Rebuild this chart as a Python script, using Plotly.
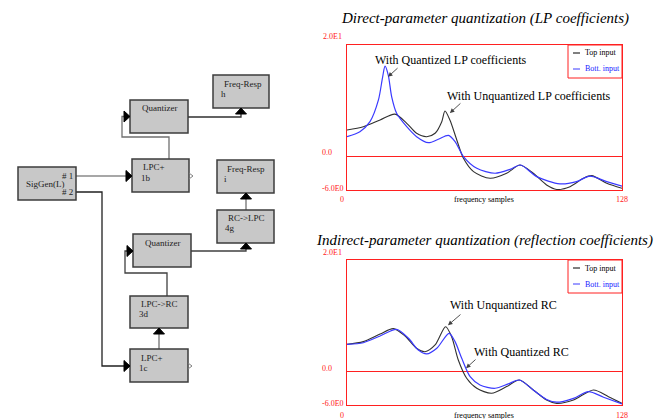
import plotly.graph_objects as go

W, H = 657, 419

# ---------------- data ----------------
top_black_x = [0, 7.6, 15.4, 22.3, 27.8, 32.4, 37.1, 41.0, 44.1, 45.6, 47.9, 51.1, 54.2, 58.9, 66.6, 74.3, 80.5, 86.7, 92.9, 97.6, 103.8, 110.0, 113.9, 120.9, 128]
top_black_y = [4.76, 5.35, 6.55, 7.6, 5.96, 4.17, 3.56, 4.17, 6.25, 8.17, 6.55, 2.97, -0.32, -2.7, -3.9, -3.0, -1.52, -3.0, -5.1, -5.9, -5.4, -3.9, -3.43, -4.8, -5.7]

top_blue_x = [0, 6.0, 10.7, 14.6, 16.6, 17.7, 19.2, 20.8, 23.1, 27.8, 32.4, 37.9, 42.5, 47.2, 50.3, 54.2, 60.4, 68.9, 75.9, 80.8, 88.3, 99.1, 106.8, 113.1, 120.9, 128]
top_blue_y = [3.56, 4.46, 6.25, 10.1, 14.3, 16.2, 14.6, 10.7, 7.75, 5.35, 3.56, 2.48, 3.1, 3.8, 2.68, 0.0, -2.1, -3.0, -2.3, -1.52, -3.6, -4.9, -4.5, -3.5, -4.5, -5.3]

bot_black_x = [0, 7.6, 15.4, 21.6, 27.0, 32.4, 36.3, 41.0, 45.9, 48.7, 51.8, 55.7, 60.4, 67.3, 74.3, 80.2, 86.7, 92.9, 97.6, 105.4, 114.7, 121.7, 128]
bot_black_y = [4.88, 5.36, 6.73, 7.7, 6.37, 4.17, 3.56, 4.76, 8.04, 6.25, 2.07, -1.2, -3.0, -3.9, -2.7, -1.52, -3.3, -5.1, -5.7, -5.1, -3.3, -4.5, -5.7]

bot_blue_x = [0, 7.6, 15.4, 23.1, 28.6, 33.2, 37.1, 41.8, 47.5, 50.3, 53.4, 57.3, 61.9, 68.9, 75.1, 80.2, 86.7, 92.9, 97.6, 105.4, 112.4, 119.4, 128]
bot_blue_y = [4.88, 5.17, 6.37, 7.57, 5.96, 3.86, 3.15, 4.17, 6.86, 5.36, 2.37, -0.92, -2.4, -3.0, -2.2, -1.52, -3.3, -5.0, -5.5, -4.8, -3.6, -4.6, -5.8]

x_range = [0, 128]
y_range = [-6, 20]
y_tick_labels = ["2.0E1", "0.0", "-6.0E0"]
x_tick_labels = ["0", "128"]
series_names = ["Top input", "Bott. input"]
titles = ["Direct-parameter quantization (LP coefficients)",
          "Indirect-parameter quantization (reflection coefficients)"]

SERIF = "Liberation Serif, Times New Roman, serif"
RED = "#ff2020"
BLACK_LINE = "#303030"
BLUE_LINE = "#3a3aff"


def P(px):
    return px / W


def Q(py):
    return 1 - py / H


fig = go.Figure()

# chart geometry (pixels)
charts = [
    dict(xa="x", ya="y", left=347, right=622, top=45, bottom=190,
         bx=top_black_x, by=top_black_y, ux=top_blue_x, uy=top_blue_y),
    dict(xa="x2", ya="y2", left=347, right=622, top=260, bottom=405,
         bx=bot_black_x, by=bot_black_y, ux=bot_blue_x, uy=bot_blue_y),
]

for i, c in enumerate(charts):
    fig.add_trace(go.Scatter(x=c["bx"], y=c["by"], mode="lines", name=series_names[0],
                             line=dict(color=BLACK_LINE, width=1.1, shape="spline", smoothing=0.8),
                             xaxis=c["xa"], yaxis=c["ya"], showlegend=False))
    fig.add_trace(go.Scatter(x=c["ux"], y=c["uy"], mode="lines", name=series_names[1],
                             line=dict(color=BLUE_LINE, width=1.2, shape="spline", smoothing=0.8),
                             xaxis=c["xa"], yaxis=c["ya"], showlegend=False))

axis_common = dict(showgrid=False, showticklabels=False, ticks="", showline=True,
                   mirror=True, linecolor=RED, linewidth=1, fixedrange=True)

fig.update_layout(
    xaxis=dict(domain=[P(347), P(622)], range=x_range, anchor="y", zeroline=False, **axis_common),
    yaxis=dict(domain=[Q(190), Q(45)], range=y_range, anchor="x", zeroline=True,
               zerolinecolor=RED, zerolinewidth=1, **axis_common),
    xaxis2=dict(domain=[P(347), P(622)], range=x_range, anchor="y2", zeroline=False, **axis_common),
    yaxis2=dict(domain=[Q(405), Q(260)], range=y_range, anchor="x2", zeroline=True,
                zerolinecolor=RED, zerolinewidth=1, **axis_common),
)

ann = []
shapes = []


def text(px, py, s, size=9, color="#000", xanchor="left", italic=False):
    ann.append(dict(xref="paper", yref="paper", x=P(px), y=Q(py), text=s, showarrow=False,
                    xanchor=xanchor, yanchor="middle",
                    font=dict(family=SERIF, size=size, color=color,
                              style="italic" if italic else "normal")))


# chart texts
text(485, 18, titles[0], size=15, xanchor="center", italic=True)
text(484, 240, titles[1], size=15, xanchor="center", italic=True)

for c in charts:
    t, b = c["top"], c["bottom"]
    text(344, t - 8, y_tick_labels[0], size=8, color=RED, xanchor="right")
    text(334, t + 108, y_tick_labels[1], size=8, color=RED, xanchor="right")
    text(346, b - 2, y_tick_labels[2], size=8, color=RED, xanchor="right")
    text(342, b + 10, x_tick_labels[0], size=8, color=RED, xanchor="center")
    text(622, b + 10, x_tick_labels[1], size=8, color=RED, xanchor="center")
    text(484, b + 10, "frequency samples", size=8, xanchor="center")
    # legend box
    shapes.append(dict(type="rect", xref="paper", yref="paper", x0=P(568), x1=P(622),
                       y0=Q(t + 33), y1=Q(t), line=dict(color=RED, width=1)))
    shapes.append(dict(type="line", xref="paper", yref="paper", x0=P(573), x1=P(580),
                       y0=Q(t + 8), y1=Q(t + 8), line=dict(color="#000", width=1)))
    shapes.append(dict(type="line", xref="paper", yref="paper", x0=P(573), x1=P(580),
                       y0=Q(t + 24), y1=Q(t + 24), line=dict(color=BLUE_LINE, width=1)))
    text(583, t + 8, series_names[0], size=8)
    text(583, t + 24, series_names[1], size=8, color="#2020ff")

# curve annotations
text(373, 60, "With Quantized LP coefficients", size=12)
text(445, 96, "With Unquantized LP coefficients", size=12)
text(448, 305, "With Unquantized RC", size=12)
text(472, 352, "With Quantized RC", size=12)

arrows = [("x", "y", 19.1, 14.3, 11, -10), ("x", "y", 47.9, 7.8, 12, -11),
          ("x2", "y2", 47.0, 8.3, 14, -12), ("x2", "y2", 55.4, 0.6, 11, -10)]
for xa, ya, x, y, ax, ay in arrows:
    ann.append(dict(xref=xa, yref=ya, x=x, y=y, ax=ax, ay=ay, axref="pixel", ayref="pixel",
                    text="", showarrow=True, arrowhead=2, arrowsize=1, arrowwidth=0.9,
                    arrowcolor="#404040"))

# ---------------- block diagram ----------------
BLOCK_FILL = "#c8c8c8"
BORDER = "#3c3c3c"
blocks = [
    (18, 167, 76, 200, [("SigGen(L)", 24, 184, "left"), ("# 1", 75, 176, "right"), ("# 2", 75, 192, "right")]),
    (132, 159, 189, 192, [("LPC+", 141, 167, "left"), ("1b", 139, 178, "left")]),
    (130, 100, 188, 133, [("Quantizer", 140, 108, "left")]),
    (213, 75, 269, 108, [("Freq-Resp", 222, 84, "left"), ("h", 219, 94, "left")]),
    (217, 160, 274, 193, [("Freq-Resp", 225, 169, "left"), ("i", 222, 179, "left")]),
    (217, 210, 274, 243, [("RC->LPC", 226, 218, "left"), ("4g", 223, 228, "left")]),
    (133, 234, 191, 267, [("Quantizer", 143, 243, "left")]),
    (130, 296, 188, 328, [("LPC->RC", 139, 304, "left"), ("3d", 137, 314, "left")]),
    (130, 349, 188, 382, [("LPC+", 139, 358, "left"), ("1c", 137, 368, "left")]),
]


def path(points, color="#505050", width=1.3, fill=None, close=False):
    d = "M " + " L ".join(f"{P(x):.5f},{Q(y):.5f}" for x, y in points)
    if close:
        d += " Z"
    s = dict(type="path", xref="paper", yref="paper", path=d,
             line=dict(color=color, width=width))
    if fill:
        s["fillcolor"] = fill
    shapes.append(s)


# connection lines
path([(76, 176), (127, 176)], color="#8a8a8a")
path([(169, 159), (169, 137), (122, 137), (122, 116.5), (125, 116.5)], color="#707070")
path([(188, 117), (241, 117), (241, 112)], color="#303030")
path([(76, 192), (102, 192), (102, 366), (125, 366)], color="#202020")
path([(159, 349), (159, 333)], color="#707070")
path([(167, 296), (167, 273), (125, 273), (125, 251), (128, 251)], color="#404040")
path([(191, 251), (246, 251), (246, 248)], color="#404040")
path([(246, 210), (246, 198)], color="#707070")

for x0, y0, x1, y1, texts in blocks:
    shapes.append(dict(type="rect", xref="paper", yref="paper", x0=P(x0), x1=P(x1),
                       y0=Q(y1), y1=Q(y0), fillcolor=BLOCK_FILL,
                       line=dict(color=BORDER, width=1.5)))
    for s, tx, ty, anc in texts:
        text(tx, ty, s, size=9, color="#222", xanchor=anc)

# arrowheads (filled triangles)
def tri_right(x, y):
    path([(x - 6, y - 5.5), (x, y), (x - 6, y + 5.5)], color="#000", width=1, fill="#000", close=True)


def tri_up(x, y):
    path([(x - 5.5, y + 6), (x, y), (x + 5.5, y + 6)], color="#000", width=1, fill="#000", close=True)


tri_right(132, 176)
tri_right(130, 116.5)
tri_right(130, 366)
tri_right(133, 251)
tri_up(241, 108)
tri_up(159, 328)
tri_up(246, 243)
tri_up(246, 193)

# small open output markers
path([(189, 173), (193, 176), (189, 179)], color="#808080", width=1)
path([(188, 363), (192, 366), (188, 369)], color="#808080", width=1)

fig.update_layout(width=W, height=H, margin=dict(l=0, r=0, t=0, b=0),
                  paper_bgcolor="white", plot_bgcolor="white",
                  annotations=ann, shapes=shapes, showlegend=False)

fig.write_html("out.html", config={"displayModeBar": False, "staticPlot": True},
               post_script="document.body.style.margin='0';document.body.style.overflow='hidden';")
